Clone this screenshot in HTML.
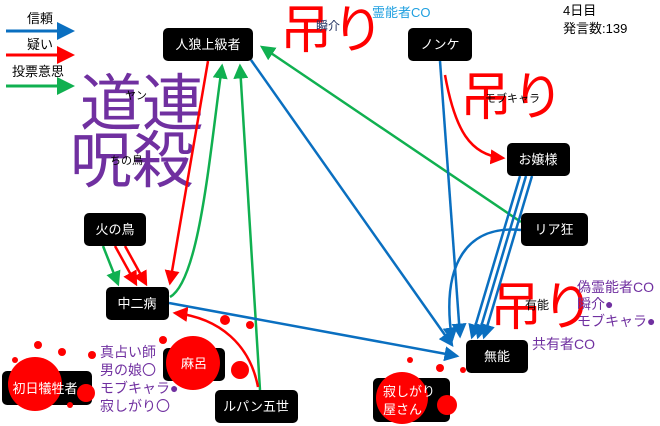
<!DOCTYPE html>
<html><head><meta charset="utf-8"><style>
body{margin:0;background:#fff;width:660px;height:426px;overflow:hidden}
svg{display:block}
text{font-family:"Liberation Sans","Noto Sans CJK JP",sans-serif}
</style></head><body>
<svg width="660" height="426" viewBox="0 0 660 426" xmlns="http://www.w3.org/2000/svg">
<defs>
<marker id="b" markerWidth="6" markerHeight="6" refX="5" refY="3" orient="auto" markerUnits="strokeWidth"><path d="M0,0 L6,3 L0,6z" fill="#0a6fc0"/></marker>
<marker id="r" markerWidth="6" markerHeight="6" refX="5" refY="3" orient="auto" markerUnits="strokeWidth"><path d="M0,0 L6,3 L0,6z" fill="#f00"/></marker>
<marker id="g" markerWidth="6" markerHeight="6" refX="5" refY="3" orient="auto" markerUnits="strokeWidth"><path d="M0,0 L6,3 L0,6z" fill="#10b050"/></marker>
</defs>
<text x="27" y="23" font-size="13">信頼</text>
<line x1="6" y1="31" x2="72" y2="31" stroke="#0a6fc0" stroke-width="3" marker-end="url(#b)"/>
<text x="27" y="49" font-size="13">疑い</text>
<line x1="6" y1="55" x2="72" y2="55" stroke="#f00" stroke-width="3" marker-end="url(#r)"/>
<text x="12" y="76" font-size="13">投票意思</text>
<line x1="6" y1="86" x2="72" y2="86" stroke="#10b050" stroke-width="3" marker-end="url(#g)"/>

<text x="80" y="125" font-size="62" fill="#7030a0">道連</text>
<text x="70" y="182" font-size="62" fill="#7030a0">呪殺</text>
<text x="125" y="99" font-size="11">ヤン</text>
<text x="110" y="164" font-size="11">ちの鳥</text>
<text x="280" y="48" font-size="52" fill="#f00">吊り</text>
<text x="316" y="30" font-size="12" fill="#203060">瞬介</text>
<text x="372" y="17" font-size="13" fill="#20a0e0">霊能者CO</text>
<text x="563" y="15" font-size="13">4日目</text>
<text x="563" y="33" font-size="13">発言数:139</text>
<text x="460" y="115" font-size="52" fill="#f00">吊り</text>
<text x="485" y="102" font-size="11">モブキャラ</text>
<text x="490" y="325" font-size="52" fill="#f00">吊り</text>
<text x="525" y="309" font-size="12">有能</text>
<g font-size="14" fill="#7030a0">
<text x="577" y="292">偽霊能者CO</text>
<text x="577" y="309">瞬介●</text>
<text x="577" y="326">モブキャラ●</text>
<text x="532" y="349">共有者CO</text>
<text x="100" y="357">真占い師</text>
<text x="100" y="375">男の娘〇</text>
<text x="100" y="393">モブキャラ●</text>
<text x="100" y="411">寂しがり〇</text>
</g>

<g fill="none" stroke-width="2.5">
<path d="M208,61 L170,283" stroke="#f00" marker-end="url(#r)"/>
<path d="M170,297 C200,280 210,150 222,66" stroke="#10b050" marker-end="url(#g)"/>
<path d="M260,390 L240,66" stroke="#10b050" marker-end="url(#g)"/>
<path d="M251,60 L452,345" stroke="#0a6fc0" marker-end="url(#b)"/>
<path d="M521,222 L262,47" stroke="#10b050" marker-end="url(#g)"/>
<path d="M440,61 L460,336" stroke="#0a6fc0" marker-end="url(#b)"/>
<path d="M445,75 C455,130 470,155 503,158" stroke="#f00" marker-end="url(#r)"/>
<path d="M520,176 L472,337" stroke="#0a6fc0" marker-end="url(#b)"/>
<path d="M526,176 L478,337" stroke="#0a6fc0" marker-end="url(#b)"/>
<path d="M532,176 L484,337" stroke="#0a6fc0" marker-end="url(#b)"/>
<path d="M521,230 C470,225 440,260 452,340" stroke="#0a6fc0" marker-end="url(#b)"/>
<path d="M169,303 L457,356" stroke="#0a6fc0" marker-end="url(#b)"/>
<path d="M258,387 C250,345 220,318 175,313" stroke="#f00" marker-end="url(#r)"/>
<path d="M103,246 L118,284" stroke="#10b050" marker-end="url(#g)"/>
<path d="M115,246 L136,284" stroke="#f00" marker-end="url(#r)"/>
<path d="M125,246 L146,284" stroke="#f00" marker-end="url(#r)"/>
</g>

<g fill="#000">
<rect x="163" y="28" width="90" height="33" rx="5"/>
<rect x="408" y="28" width="64" height="33" rx="5"/>
<rect x="507" y="143" width="63" height="33" rx="5"/>
<rect x="84" y="213" width="62" height="33" rx="5"/>
<rect x="521" y="213" width="67" height="33" rx="5"/>
<rect x="106" y="287" width="63" height="33" rx="5"/>
<rect x="466" y="340" width="62" height="33" rx="5"/>
<rect x="2" y="371" width="90" height="34" rx="5"/>
<rect x="163" y="348" width="62" height="33" rx="5"/>
<rect x="215" y="390" width="83" height="33" rx="5"/>
<rect x="373" y="378" width="77" height="44" rx="5"/>
</g>
<g fill="#f00">
<circle cx="35" cy="384" r="27"/><circle cx="86" cy="393" r="9"/><circle cx="38" cy="345" r="4"/><circle cx="62" cy="352" r="4"/><circle cx="70" cy="405" r="3"/><circle cx="15" cy="360" r="3"/>
<circle cx="193" cy="363" r="27"/><circle cx="240" cy="370" r="9"/><circle cx="225" cy="320" r="5"/><circle cx="250" cy="325" r="4"/><circle cx="163" cy="340" r="4"/><circle cx="92" cy="355" r="4"/>
<circle cx="402" cy="398" r="26"/><circle cx="447" cy="405" r="10"/><circle cx="440" cy="368" r="4"/><circle cx="410" cy="360" r="3"/><circle cx="463" cy="370" r="3"/>
</g>
<g fill="#fff" font-size="13" text-anchor="middle">
<text x="208" y="49">人狼上級者</text>
<text x="440" y="49">ノンケ</text>
<text x="538" y="164">お嬢様</text>
<text x="115" y="234">火の鳥</text>
<text x="554" y="234">リア狂</text>
<text x="137" y="308">中二病</text>
<text x="497" y="361">無能</text>
<text x="45" y="393">初日犠牲者</text>
<text x="194" y="368">麻呂</text>
<text x="256" y="411">ルパン五世</text>
</g>
<g fill="#fff" font-size="13">
<text x="383" y="396">寂しがり</text>
<text x="383" y="414">屋さん</text>
</g>
</svg>
</body></html>
